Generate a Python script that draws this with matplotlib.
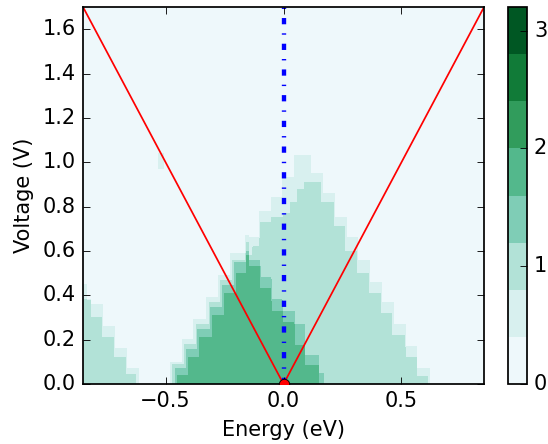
import numpy as np
import matplotlib
matplotlib.use('Agg')
import matplotlib.pyplot as plt

plt.style.use('classic')
plt.rcParams['lines.scale_dashes'] = False

# step profiles: for each contour level, the voltage
# below which the map is at or above that level (edges in eV, heights in V)
halo_edges = [-0.85, -0.835, -0.765, -0.715, -0.665, -0.615, -0.48, -0.43, -0.38,
              -0.325, -0.275, -0.225, -0.16, -0.15, -0.10, -0.05, -0.005, 0.045,
              0.115, 0.165, 0.215, 0.265, 0.315, 0.365, 0.415, 0.465, 0.515, 0.565, 0.62]
halo_heights = [0.45, 0.36, 0.26, 0.16, 0.07, 0.0, 0.10, 0.20, 0.29, 0.39, 0.49,
                0.59, 0.67, 0.66, 0.78, 0.84, 0.93, 1.03, 0.95, 0.86, 0.75, 0.66,
                0.56, 0.46, 0.37, 0.27, 0.17, 0.07]

teal_edges = [-0.85, -0.82, -0.77, -0.72, -0.67, -0.625, -0.47, -0.42, -0.37, -0.315,
              -0.265, -0.215, -0.16, -0.15, -0.13, -0.10, -0.05, 0.0, 0.03, 0.06,
              0.09, 0.155, 0.21, 0.26, 0.31, 0.36, 0.41, 0.46, 0.515, 0.565, 0.61]
teal_heights = [0.38, 0.30, 0.21, 0.12, 0.045, 0.0, 0.09, 0.18, 0.27, 0.37, 0.47,
                0.56, 0.64, 0.58, 0.62, 0.73, 0.75, 0.77, 0.82, 0.88, 0.91, 0.82,
                0.71, 0.60, 0.50, 0.41, 0.32, 0.22, 0.12, 0.035]

mid_edges = [-0.46, -0.413, -0.363, -0.308, -0.258, -0.208, -0.158, -0.15, -0.10,
             -0.053, -0.006, 0.045, 0.09, 0.147, 0.168]
mid_heights = [0.07, 0.155, 0.245, 0.345, 0.445, 0.55, 0.60, 0.56, 0.48, 0.38,
               0.33, 0.27, 0.13, 0.05]

dark_edges = [-0.45, -0.405, -0.355, -0.30, -0.25, -0.20, -0.155, -0.148, -0.10,
              -0.053, -0.006, 0.045, 0.09, 0.147]
dark_heights = [0.04, 0.12, 0.21, 0.31, 0.41, 0.50, 0.58, 0.53, 0.43, 0.33, 0.28,
                0.175, 0.085]

# small isolated speck in the background
speck_e = (-0.53, -0.51)
speck_v = (0.97, 1.04)

levels = np.arange(0, 3.21, 0.4)
energy = np.linspace(-0.85, 0.85, 1201)
voltage = np.linspace(0, 1.7, 851)


def step_profile(e, edges, heights):
    edges = np.asarray(edges)
    heights = np.asarray(heights)
    idx = np.searchsorted(edges, e, side='right') - 1
    out = np.zeros_like(e)
    ok = (idx >= 0) & (idx < len(heights))
    out[ok] = heights[idx[ok]]
    return out


h4 = step_profile(energy, dark_edges, dark_heights)
h3 = np.maximum(step_profile(energy, mid_edges, mid_heights), h4)
h2 = np.maximum(step_profile(energy, teal_edges, teal_heights), h3)
h1 = np.maximum(step_profile(energy, halo_edges, halo_heights), h2)

E, V = np.meshgrid(energy, voltage)
Z = 0.2 + 0.4 * sum((V < h) for h in (h1, h2, h3, h4)).astype(float)
speck = (E > speck_e[0]) & (E < speck_e[1]) & (V > speck_v[0]) & (V < speck_v[1])
Z[speck] += 0.4

dpi = 125
fig = plt.figure(figsize=(548 / dpi, 444 / dpi))
ax = fig.add_axes([0.1515, 0.1351, 0.7318, 0.8491])
cax = fig.add_axes([0.927, 0.1351, 0.0347, 0.8491])

cs = ax.contourf(E, V, Z, levels=levels, cmap='BuGn')

edge = [-0.85, 0.0, 0.85]
ax.plot(edge, [2 * abs(x) for x in edge], 'r-')
ax.plot([0, 0], [0, 1.7], color='blue', lw=2.5, linestyle='-.',
        dashes=(3.6, 5.2, 0.8, 5.2))
ax.plot([0], [0], 'ro', zorder=5)

ax.set_xlim(-0.85, 0.85)
ax.set_ylim(0, 1.7)
ax.set_xticks([-0.5, 0.0, 0.5])
ax.set_yticks(np.arange(0, 1.61, 0.2))
ax.set_xlabel('Energy (eV)')
ax.set_ylabel('Voltage (V)')

cb = fig.colorbar(cs, cax=cax, ticks=[0, 1, 2, 3])

fig.savefig('out.png', dpi=dpi, facecolor='white')
